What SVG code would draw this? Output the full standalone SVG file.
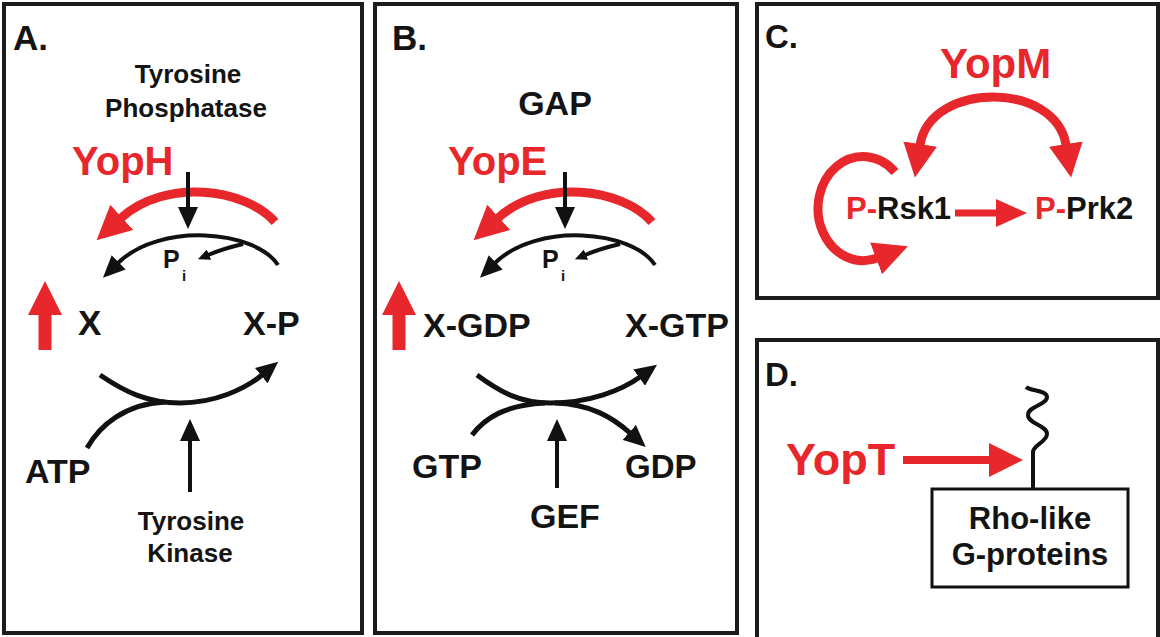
<svg xmlns="http://www.w3.org/2000/svg" width="1160" height="637" viewBox="0 0 1160 637">
<style>
.t{font-family:"Liberation Sans",Arial,sans-serif;font-weight:bold;fill:#141414}
.r{fill:#e8272c}
.panel{fill:#fff;stroke:#1c1c1c;stroke-width:4}
.bk{fill:none;stroke:#111;stroke-width:4}
.bk5{fill:none;stroke:#111;stroke-width:5}
.rd{fill:none;stroke:#e8272c;stroke-width:9}
</style>
<defs>
<marker id="rh" viewBox="0 0 34 34" markerWidth="34" markerHeight="34" refX="1" refY="17" orient="auto-start-reverse" markerUnits="userSpaceOnUse"><path d="M0,0 L34,17 L0,34 z" fill="#e8272c"/></marker>
<marker id="rs" viewBox="0 0 31 28" markerWidth="31" markerHeight="28" refX="1" refY="14" orient="auto" markerUnits="userSpaceOnUse"><path d="M0,0 L31,14 L0,28 z" fill="#e8272c"/></marker>
<marker id="bh" viewBox="0 0 22 20" markerWidth="22" markerHeight="20" refX="1" refY="10" orient="auto" markerUnits="userSpaceOnUse"><path d="M0,0 L22,10 L0,20 z" fill="#111"/></marker>
<marker id="bs" viewBox="0 0 12 11" markerWidth="12" markerHeight="11" refX="1" refY="5.5" orient="auto" markerUnits="userSpaceOnUse"><path d="M0,0 L12,5.5 L0,11 z" fill="#111"/></marker>
</defs>
<rect width="1160" height="637" fill="#fff"/>

<g id="panelA">
<rect class="panel" x="4" y="4" width="358" height="629"/>
<text class="t" x="13" y="50" font-size="35">A.</text>
<text class="t" x="188" y="83" font-size="26" text-anchor="middle">Tyrosine</text>
<text class="t" x="186" y="117" font-size="26" text-anchor="middle">Phosphatase</text>
<text class="t r" x="72" y="175" font-size="40">YopH</text>
<text class="t" x="163" y="268" font-size="25">P</text>
<text class="t" x="182" y="281" font-size="15">i</text>
<text class="t" x="78" y="335" font-size="35">X</text>
<text class="t" x="243" y="335" font-size="34">X-P</text>
<text class="t" x="25" y="483" font-size="34">ATP</text>
<text class="t" x="191" y="530" font-size="26" text-anchor="middle">Tyrosine</text>
<text class="t" x="190" y="562" font-size="26" text-anchor="middle">Kinase</text>
</g>

<g id="panelB">
<rect class="panel" x="375" y="4" width="362" height="629"/>
<text class="t" x="392" y="50" font-size="35">B.</text>
<text class="t" x="555" y="115" font-size="34" text-anchor="middle">GAP</text>
<text class="t r" x="448" y="175" font-size="40">YopE</text>
<text class="t" x="542" y="268" font-size="25">P</text>
<text class="t" x="561" y="281" font-size="15">i</text>
<text class="t" x="423" y="337" font-size="34">X-GDP</text>
<text class="t" x="625" y="337" font-size="34">X-GTP</text>
<text class="t" x="412" y="478" font-size="34">GTP</text>
<text class="t" x="625" y="478" font-size="33">GDP</text>
<text class="t" x="530" y="528" font-size="34">GEF</text>
</g>

<g id="panelC">
<rect class="panel" x="757" y="4" width="401" height="294"/>
<text class="t" x="765" y="48" font-size="33">C.</text>
<text class="t r" x="940" y="78" font-size="42">YopM</text>
<text class="t" x="846" y="219" font-size="31"><tspan class="r">P-</tspan>Rsk1</text>
<text class="t" x="1035" y="219" font-size="31"><tspan class="r">P-</tspan>Prk2</text>
</g>

<g id="panelD">
<rect class="panel" x="757" y="340" width="401" height="302"/>
<text class="t" x="765" y="386" font-size="33">D.</text>
<text class="t r" x="786" y="475" font-size="45">YopT</text>
<rect x="932" y="489" width="196" height="98" fill="none" stroke="#111" stroke-width="3"/>
<text class="t" x="1030" y="529" font-size="31" text-anchor="middle">Rho-like</text>
<text class="t" x="1030" y="565" font-size="31" text-anchor="middle">G-proteins</text>
</g>

<g id="connectors">
<!-- Panel A -->
<path class="rd" d="M275,222 C245,188 165,178 121,218" marker-end="url(#rh)"/>
<path class="bk" d="M188,172 L188,208" marker-end="url(#bh)"/>
<path class="bk" d="M278,265 C255,230 160,222 118,263" marker-end="url(#bh)"/>
<path class="bk" stroke-width="3" d="M243,244 Q222,249 208,255" marker-end="url(#bs)"/>
<path fill="none" stroke="#e8272c" stroke-width="13" d="M45,350 L45,314" marker-end="url(#rh)"/>
<path class="bk5" d="M100,375 C125,392 148,403 180,403 C215,403 245,389 262,375" marker-end="url(#bh)"/>
<path class="bk5" d="M87,448 C100,425 125,404 165,402"/>
<path class="bk" d="M190,492 L190,440" marker-end="url(#bh)"/>
<!-- Panel B -->
<path class="rd" d="M652,222 C622,188 542,178 498,218" marker-end="url(#rh)"/>
<path class="bk" d="M565,172 L565,208" marker-end="url(#bh)"/>
<path class="bk" d="M655,265 C632,230 537,222 495,263" marker-end="url(#bh)"/>
<path class="bk" stroke-width="3" d="M620,244 Q599,249 585,255" marker-end="url(#bs)"/>
<path fill="none" stroke="#e8272c" stroke-width="13" d="M399,350 L399,314" marker-end="url(#rh)"/>
<path class="bk5" d="M477,375 C500,392 520,403 550,403 C590,403 622,390 640,377" marker-end="url(#bh)"/>
<path class="bk5" d="M472,435 C485,418 505,405 545,403"/>
<path class="bk5" d="M555,403 C590,404 612,417 630,433" marker-end="url(#bh)"/>
<path class="bk" d="M557,488 L557,440" marker-end="url(#bh)"/>
<!-- Panel C -->
<path class="rd" d="M920,145 C930,81 1056,81 1066,145" marker-start="url(#rh)" marker-end="url(#rh)"/>
<path class="rd" d="M895,172 A45,52 0 1 0 877,258" marker-end="url(#rh)"/>
<path fill="none" stroke="#e8272c" stroke-width="7" d="M955,213 L997,213" marker-end="url(#rs)"/>
<!-- Panel D -->
<path fill="none" stroke="#e8272c" stroke-width="8" d="M903,460 L990,460" marker-end="url(#rh)"/>
<path class="bk" stroke-width="3" d="M1033,489 L1033,452 C1033,445 1047,442 1047,434 C1047,425 1028,424 1028,415 C1028,406 1047,405 1047,397 C1047,390 1030,391 1026,387"/>
</g>
</svg>
